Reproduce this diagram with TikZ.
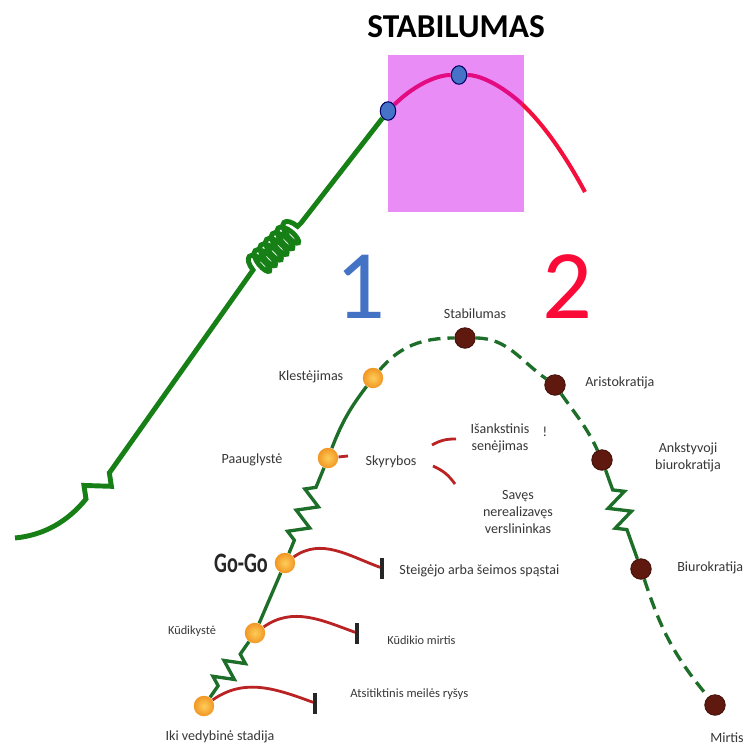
\documentclass[tikz,border=0pt]{standalone}
\usepackage{fontspec}
\setmainfont{Carlito}
\newfontfamily\condfont[FakeStretch=0.72]{Carlito}
\usetikzlibrary{decorations.pathmorphing,shapes.geometric}
\definecolor{topgreen}{RGB}{22,128,22}
\definecolor{lowgreen}{RGB}{28,110,40}
\definecolor{pinkbox}{RGB}{233,140,245}
\definecolor{magline}{RGB}{228,10,130}
\definecolor{redline}{RGB}{245,15,60}
\definecolor{dotblue}{RGB}{70,115,200}
\definecolor{onecol}{RGB}{68,114,196}
\definecolor{twocol}{RGB}{250,10,55}
\definecolor{brownd}{RGB}{95,25,15}
\definecolor{orin}{RGB}{253,205,90}
\definecolor{orout}{RGB}{242,150,35}
\definecolor{arcred}{RGB}{185,35,35}
\definecolor{txtgrey}{RGB}{55,55,55}
\begin{document}
\begin{tikzpicture}[x=0.02cm,y=-0.02cm,
  every node/.style={font=\fontsize{8}{9.8}\selectfont,text=txtgrey,inner sep=0pt},
  bdot/.style={ellipse,draw=black!60!blue,line width=0.6pt,fill=dotblue,minimum width=0.31cm,minimum height=0.37cm},
  odot/.style={circle,minimum size=0.41cm,inner color=orin,outer color=orout},
  ndot/.style={circle,fill=brownd,draw=brownd!70!black,line width=0.5pt,minimum size=0.41cm},
  glow/.style={lowgreen,line width=1.9pt},
  gdash/.style={glow,dash pattern=on 7pt off 4pt},
  zz/.style={decorate,decoration={zigzag,segment length=#1,amplitude=5.5pt,pre length=8pt,post length=8pt}},
  tbar/.style={fill=black!85,minimum width=1.8pt,minimum height=0.42cm},
  redarc/.style={arcred,line width=1.6pt}]
\useasboundingbox (0,0) rectangle (745,745);
\fill[pinkbox] (388,55) rectangle (524,212);
\node[font=\bfseries\fontsize{19}{22}\selectfont,text=black] (title) at (456,27) {STABILUMAS};
\node[font=\fontsize{56}{60}\selectfont,text=onecol] (one) at (360,287) {1};
\node[font=\fontsize{56}{60}\selectfont,text=twocol] (two) at (567,287) {2};
\coordinate (start) at (15,538);
\coordinate (ca) at (86,499);
\coordinate (cb) at (110,472);
\coordinate (cc) at (253,270);
\coordinate (cd) at (301,223);
\coordinate (mid) at (522,104);
\coordinate (rend) at (585,192);
\node[bdot] (b1) at (388,111) {};
\node[bdot] (b2) at (459,75) {};
\draw[topgreen,line width=2.8pt] (start) .. controls (45,535) and (68,521) .. (ca)
  decorate[decoration={zigzag,segment length=20pt,amplitude=6pt}] {-- (cb)} -- (cc)
  decorate[decoration={coil,segment length=4.6pt,amplitude=7pt,aspect=0.4}] {-- (cd)} -- (b1);
\draw[magline,line width=2.3pt] (b1) .. controls (412,87) and (435,75) .. (b2);
\draw[magline,line width=2.3pt] (b2) .. controls (480,75) and (501,85) .. (mid);
\draw[redline,line width=2.3pt] (mid) .. controls (543,124) and (564,153) .. (rend);
\node[odot] (iki) at (204,706) {};
\node[odot] (kud) at (255,633) {};
\node[odot] (gogo) at (285,563) {};
\node[odot] (paaug) at (328,458) {};
\node[odot] (klest) at (373,378) {};
\node[ndot] (stab) at (465,338) {};
\node[ndot] (arist) at (555,385) {};
\node[ndot] (ankst) at (602,460) {};
\node[ndot] (biur) at (641,569) {};
\node[ndot] (mirt) at (715,705) {};
\draw[glow,zz=11pt] (iki) -- (kud);
\draw[glow] (kud) -- (gogo);
\draw[glow,zz=13pt] (gogo) -- (paaug);
\draw[glow] (paaug) to[bend left=8] (klest);
\draw[gdash] (klest) to[out=50,in=180] (stab);
\draw[gdash] (stab) to[out=0,in=145] (arist);
\draw[gdash] (arist) to[out=-55,in=115] (ankst);
\draw[glow,decorate,decoration={zigzag,segment length=12pt,amplitude=6pt,pre length=12pt,post length=13pt}] (ankst) -- (biur);
\draw[gdash] (biur) to[out=-72,in=130] (mirt);
\node[tbar] (gogoT) at (382,568) {};
\node[tbar] (kudT) at (357,633) {};
\node[tbar] (ikiT) at (315,703) {};
\draw[redarc] (gogo) to[out=35,in=160] (gogoT);
\draw[redarc] (kud) to[out=35,in=160] (kudT);
\draw[redarc] (iki) to[out=35,in=160] (ikiT);
\coordinate (stub) at (348,456);
\coordinate (ra1) at (432,445);
\coordinate (ra2) at (456,439);
\coordinate (rb1) at (433,466);
\coordinate (rb2) at (455,484);
\draw[redarc] (paaug) -- (stub);
\draw[redarc] (ra1) to[bend left=15] (ra2);
\draw[redarc] (rb1) to[bend left=15] (rb2);
\node (stabL) at (475,314) {Stabilumas};
\node (klestL) at (311,377) {Klestėjimas};
\node (paaugL) at (252,460) {Paauglystė};
\node (skyrL) at (391,462) {Skyrybos};
\node[align=center] (isankL) at (500,438) {Išankstinis\\senėjimas};
\node[font=\fontsize{8}{9}\selectfont] (bangL) at (545,432) {!};
\node[align=center] (savesL) at (518,512) {Savęs\\nerealizavęs\\verslininkas};
\node[font=\condfont\bfseries\fontsize{16}{18}\selectfont,text=black!85] (gogoL) at (241,563) {Go-Go};
\node[anchor=west] (steigL) at (399,571) {Steigėjo arba šeimos spąstai};
\node[font=\fontsize{7}{8}\selectfont] (kudL) at (192,631) {Kūdikystė};
\node[anchor=west,font=\fontsize{7}{8}\selectfont] (kudmL) at (387,640) {Kūdikio mirtis};
\node (ikiL) at (220,737) {Iki vedybinė stadija};
\node[anchor=west,font=\fontsize{7.2}{8.5}\selectfont] (atsL) at (350,694) {Atsitiktinis meilės ryšys};
\node[anchor=west] (aristL) at (585,383) {Aristokratija};
\node[align=center] (ankstL) at (688,457) {Ankstyvoji\\biurokratija};
\node[anchor=west] (biurL) at (677,568) {Biurokratija};
\node (mirtL) at (727,738) {Mirtis};
\end{tikzpicture}
\end{document}
